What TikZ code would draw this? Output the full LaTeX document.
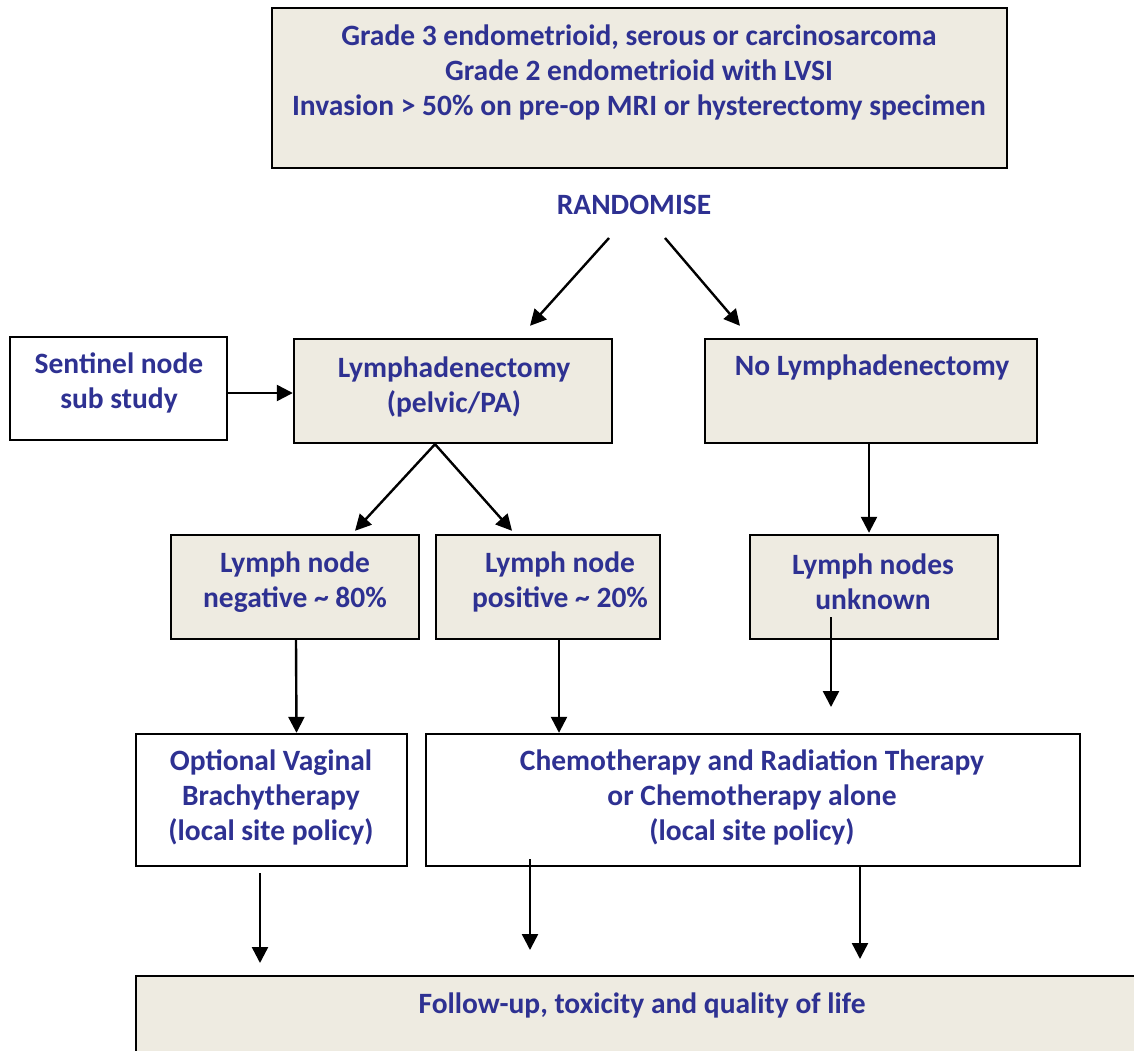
\documentclass[tikz,border=0pt]{standalone}
\usepackage{fontspec}
\setmainfont{Carlito}
\usetikzlibrary{arrows.meta}
\definecolor{txtblue}{HTML}{2E3192}
\definecolor{beige}{HTML}{EEEBE1}
\tikzset{
  box/.style={draw=black, line width=2.4pt, rectangle, inner sep=0pt},
  beigebox/.style={box, fill=beige},
  whitebox/.style={box, fill=white},
  lbl/.style={text=txtblue, font=\fontsize{29.5}{35}\selectfont\bfseries, align=center, inner sep=0pt},
  arr/.style={draw=black, line width=2.4pt, -{Triangle[length=16pt,width=16pt]}},
}
\begin{document}
\begin{tikzpicture}[x=1pt,y=-1pt]
\useasboundingbox (0,0) rectangle (1134,1050);
\clip (0,0) rectangle (1134,1050);
% boxes
\node[beigebox, minimum width=735pt, minimum height=160pt] (top) at (639.5,88) {};
\node[lbl] (topt) at (639,72) {Grade 3 endometrioid, serous or carcinosarcoma\\Grade 2 endometrioid with LVSI\\Invasion > 50\% on pre-op MRI or hysterectomy specimen};
\node[lbl] (rand) at (634,205) {RANDOMISE};
\node[whitebox, minimum width=217pt, minimum height=103pt] (sent) at (118.5,388.5) {};
\node[lbl] (sentt) at (119,383) {Sentinel node\\sub study};
\node[beigebox, minimum width=318pt, minimum height=104pt] (lymph) at (453,391) {};
\node[lbl] (lympht) at (454,387) {Lymphadenectomy\\(pelvic/PA)};
\node[beigebox, minimum width=332pt, minimum height=104pt] (nolymph) at (871,391) {};
\node[lbl] (nolympht) at (872,367) {No Lymphadenectomy};
\node[beigebox, minimum width=248pt, minimum height=104pt] (neg) at (295,587) {};
\node[lbl] (negt) at (295,582) {Lymph node\\negative \char`\~{} 80\%};
\node[beigebox, minimum width=224pt, minimum height=104pt] (pos) at (548,587) {};
\node[lbl] (post) at (560,582) {Lymph node\\positive \char`\~{} 20\%};
\node[beigebox, minimum width=248pt, minimum height=104pt] (unk) at (874,587) {};
\node[lbl] (unkt) at (873,582) {Lymph nodes\\unknown};
\node[whitebox, minimum width=271pt, minimum height=132pt] (opt) at (271.5,800) {};
\node[lbl] (optt) at (271,797) {Optional Vaginal\\Brachytherapy\\(local site policy)};
\node[whitebox, minimum width=654pt, minimum height=132pt] (chemo) at (753,800) {};
\node[lbl] (chemot) at (752,797) {Chemotherapy and Radiation Therapy\\or Chemotherapy alone\\(local site policy)};
\node[beigebox, anchor=north west, minimum width=1020pt, minimum height=120pt] (follow) at (135,975) {};
\node[lbl] (followt) at (642,1005) {Follow-up, toxicity and quality of life};
% free ends
\coordinate (r1) at (609,238);
\coordinate (r2) at (665,238);
\coordinate (unkend) at (831,707);
% connectors
\draw[arr] (r1) -- ([xshift=77pt,yshift=12pt]lymph.north);
\draw[arr] (r2) -- ([xshift=-131pt,yshift=12pt]nolymph.north);
\draw[arr] ([yshift=-4.5pt]sent.east) -- ([yshift=-2pt]lymph.west);
\draw[arr] ([xshift=-18pt]lymph.south) -- ([xshift=60pt,yshift=3pt]neg.north);
\draw[arr] ([xshift=-18pt]lymph.south) -- ([xshift=-36pt,yshift=3pt]pos.north);
\draw[arr] ([xshift=-2pt]nolymph.south) -- ([xshift=-5pt,yshift=1pt]unk.north);
\draw[arr] ([xshift=1pt]neg.south) -- ([xshift=25pt]opt.north);
\draw[arr] ([xshift=11pt]pos.south) -- ([xshift=-194pt]chemo.north);
\draw[arr] ([xshift=-43pt,yshift=23pt]unk.south) -- (unkend);
\draw[arr] ([xshift=-11.5pt,yshift=-6pt]opt.south) -- ([xshift=125pt,yshift=12pt]follow.north west);
\draw[arr] ([xshift=-223pt,yshift=8pt]chemo.south) -- ([xshift=395pt,yshift=25pt]follow.north west);
\draw[arr] ([xshift=107pt]chemo.south) -- ([xshift=725pt,yshift=16pt]follow.north west);
\end{tikzpicture}
\end{document}
